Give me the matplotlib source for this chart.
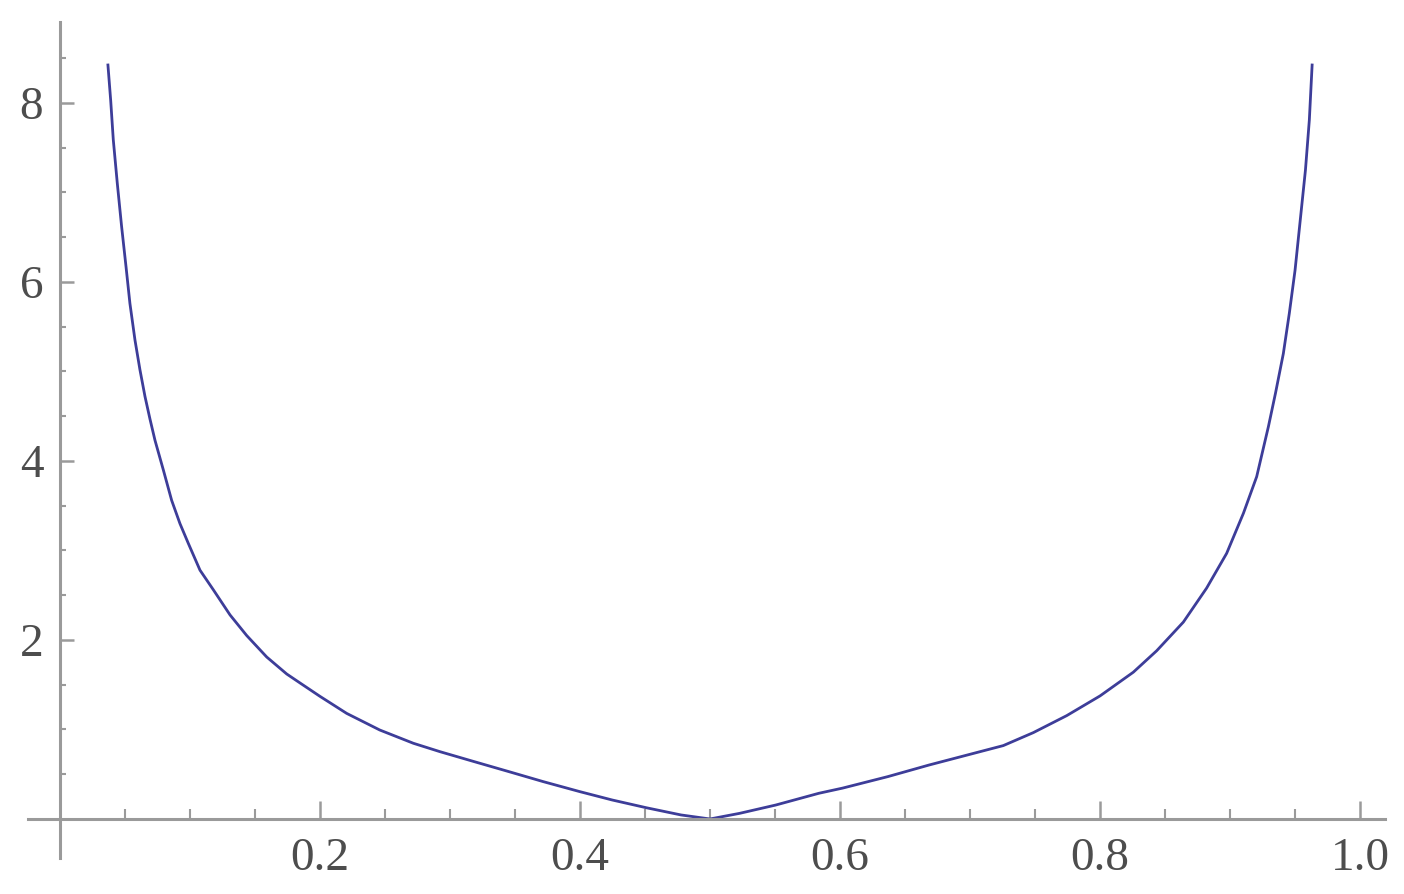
import matplotlib
matplotlib.use("Agg")
import matplotlib.pyplot as plt
from matplotlib.ticker import FixedLocator

# Values
left_x = [0.0368, 0.0390, 0.0410, 0.0441, 0.0474, 0.0508, 0.0538, 0.0577, 0.0615,
          0.0654, 0.0692, 0.0731, 0.0795, 0.0859, 0.0923, 0.0987, 0.1077, 0.1180,
          0.1308, 0.1436, 0.1590, 0.1744, 0.1846, 0.2000, 0.2205, 0.2460, 0.2718,
          0.2923, 0.3188, 0.3453, 0.3718, 0.4000, 0.4248, 0.4512, 0.4777, 0.5000]
left_y = [8.44, 8.03, 7.59, 7.10, 6.62, 6.17, 5.76, 5.35, 5.02,
          4.72, 4.47, 4.23, 3.90, 3.56, 3.30, 3.08, 2.78, 2.56,
          2.28, 2.05, 1.81, 1.62, 1.52, 1.37, 1.18, 0.994, 0.846,
          0.752, 0.640, 0.529, 0.417, 0.305, 0.212, 0.125, 0.045, 0.0]
right_x = [0.5000, 0.5228, 0.5506, 0.5837, 0.6020, 0.6367, 0.6685, 0.7077, 0.7256,
           0.7487, 0.7744, 0.8000, 0.8256, 0.8436, 0.8641, 0.8820, 0.8974, 0.9103,
           0.9205, 0.9295, 0.9350, 0.9410, 0.9456, 0.9500, 0.9540, 0.9580, 0.9610,
           0.9632]
right_y = [0.0, 0.063, 0.156, 0.287, 0.345, 0.473, 0.603, 0.752, 0.820,
           0.965, 1.155, 1.375, 1.64, 1.88, 2.20, 2.58, 2.968, 3.416,
           3.825, 4.383, 4.76, 5.20, 5.65, 6.13, 6.69, 7.25, 7.81,
           8.44]

x_ticks = [0.2, 0.4, 0.6, 0.8, 1.0]
x_labels = ["0.2", "0.4", "0.6", "0.8", "1.0"]
y_ticks = [2, 4, 6, 8]
y_labels = ["2", "4", "6", "8"]

W, H = 1404, 894
fig = plt.figure(figsize=(W / 100, H / 100), dpi=100)
ax = fig.add_axes([28 / W, (H - 858) / H, (1385 - 28) / W, (858 - 22) / H])

line_color = "#3d3d99"
ax.plot(left_x + right_x[1:], left_y + right_y[1:], color=line_color, lw=2.0,
        solid_joinstyle="round", solid_capstyle="butt")

ax.set_xlim(-0.0246, 1.0192)
ax.set_ylim(-0.436, 8.905)

axis_color = "#9a9a9a"
for s in ["top", "right"]:
    ax.spines[s].set_visible(False)
ax.spines["left"].set_position(("data", 0))
ax.spines["bottom"].set_position(("data", 0))
for s in ["left", "bottom"]:
    ax.spines[s].set_color(axis_color)
    ax.spines[s].set_linewidth(2.2)

ax.xaxis.set_major_locator(FixedLocator(x_ticks))
ax.set_xticklabels(x_labels)
ax.xaxis.set_minor_locator(FixedLocator([0.05 * i for i in range(1, 21) if i % 4 != 0]))
ax.yaxis.set_major_locator(FixedLocator(y_ticks))
ax.set_yticklabels(y_labels)
ax.yaxis.set_minor_locator(FixedLocator([0.5 * i for i in range(1, 18) if i % 4 != 0]))

for lab in ax.get_xticklabels() + ax.get_yticklabels():
    lab.set_fontfamily("Liberation Serif")
    lab.set_fontsize(34)
    lab.set_color("#4d4d4d")

ax.tick_params(axis="x", which="major", direction="in", length=13, width=1.8,
               color=axis_color, pad=13)
ax.tick_params(axis="x", which="minor", direction="in", length=7, width=1.5,
               color=axis_color)
ax.tick_params(axis="y", which="major", direction="in", length=10, width=1.8,
               color=axis_color, pad=12)
ax.tick_params(axis="y", which="minor", direction="in", length=4.5, width=1.5,
               color=axis_color)

ax.patch.set_visible(False)
fig.savefig("out.png", dpi=100)
